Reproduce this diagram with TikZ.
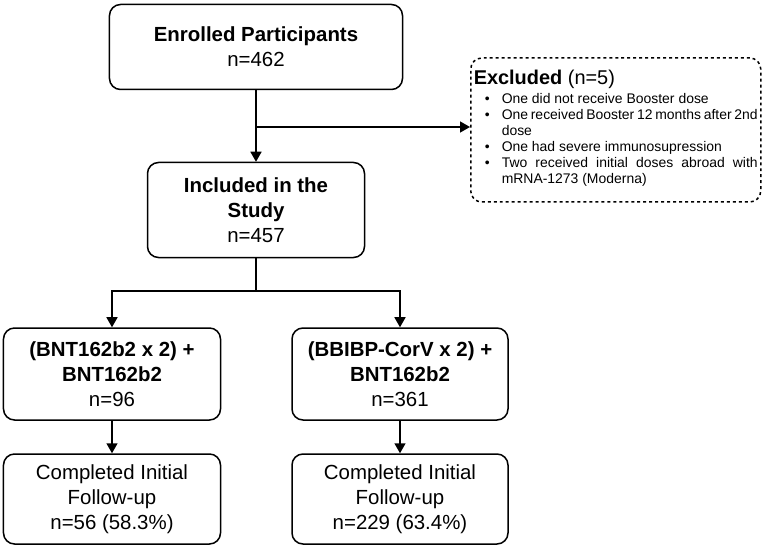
\documentclass[tikz,border=0pt]{standalone}
\usepackage{fontspec}
\setmainfont{Liberation Sans}
\usetikzlibrary{arrows.meta,positioning,calc}

\begin{document}
\begin{tikzpicture}[x=1bp,y=-1bp,
    box/.style={rectangle,draw,line width=1.5bp,rounded corners=11bp,align=center,font=\fontsize{20.5}{25}\selectfont},
    arr/.style={-{Triangle[length=10bp,width=11bp]},line width=1.5bp}]
    \useasboundingbox (0,0) rectangle (765,549);

    % Main flow
    \node[box,minimum width=293bp,minimum height=85bp] (enrol) at (256,47) {\textbf{Enrolled Participants}\\n=462};
    \node[box,minimum width=217bp,minimum height=95bp] (incl) at (256,210) {\textbf{Included in the}\\\textbf{Study}\\n=457};
    \node[box,dashed,minimum width=290bp,minimum height=144bp,anchor=west,align=left,inner xsep=3bp] (excl) at (470,130)
      {\parbox{284bp}{{\fontsize{20}{22}\selectfont\textbf{Excluded} (n=5)}\par
       \fontsize{14}{16}\selectfont
       \begin{list}{\textbullet}{\leftmargin=28bp\labelsep=12bp\topsep=1bp\itemsep=0bp\parsep=0bp}
       \item One did not receive Booster dose
       \item One received Booster 12 months after 2nd dose
       \item One had severe immunosupression
       \item Two received initial doses abroad with mRNA-1273 (Moderna)
       \end{list}}};

    % Arms
    \node[box,minimum width=217bp,minimum height=92bp] (bnt) at (112,374) {\textbf{(BNT162b2 x 2) +}\\\textbf{BNT162b2}\\n=96};
    \node[box,minimum width=216bp,minimum height=92bp] (bbi) at (400,374) {\textbf{(BBIBP-CorV x 2) +}\\\textbf{BNT162b2}\\n=361};
    \node[box,minimum width=217bp,minimum height=90bp] (fbnt) at (112,499) {Completed Initial\\Follow-up\\n=56 (58.3\%)};
    \node[box,minimum width=216bp,minimum height=90bp] (fbbi) at (400,499) {Completed Initial\\Follow-up\\n=229 (63.4\%)};

    \coordinate (split) at (256,127);
    \coordinate (fork) at (256,291);

    \draw[arr] (enrol) -- (incl);
    \draw[arr] (split) -- (split -| excl.west);
    \draw[line width=1.5bp] (incl) -- (fork);
    \draw[arr] (fork) -| (bnt);
    \draw[arr] (fork) -| (bbi);
    \draw[arr] (bnt) -- (fbnt);
    \draw[arr] (bbi) -- (fbbi);
\end{tikzpicture}
\end{document}
